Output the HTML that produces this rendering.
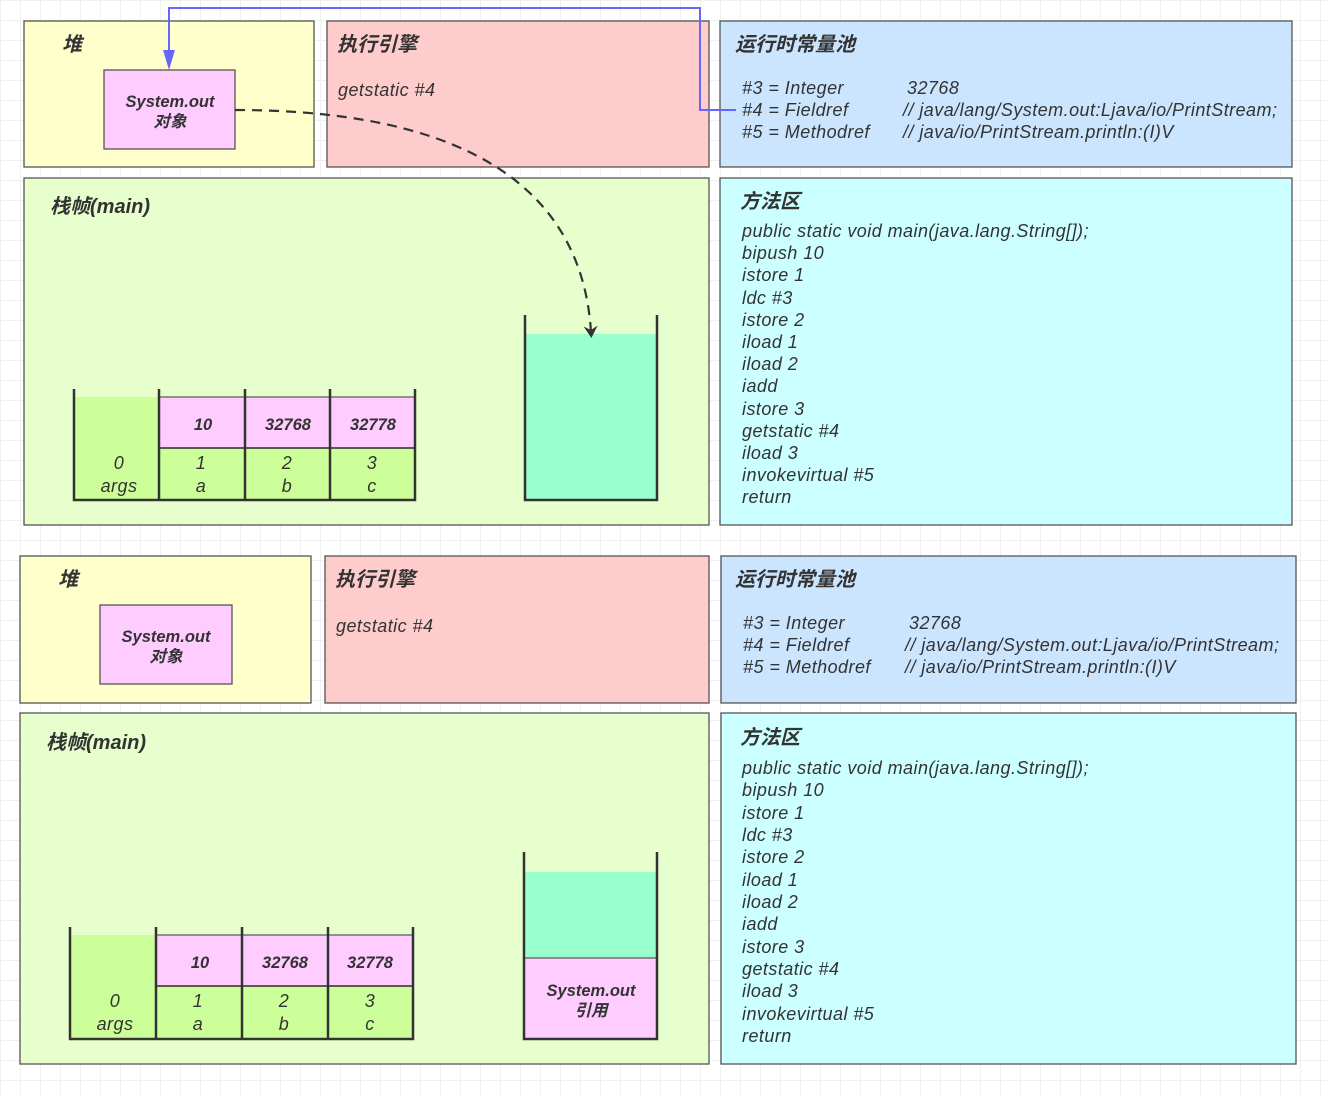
<!DOCTYPE html>
<html><head><meta charset="utf-8"><style>
html,body{margin:0;padding:0;background:#fff;}
body{width:1328px;height:1095px;overflow:hidden;
background-image:linear-gradient(#f0f0f0 1px,transparent 1px),linear-gradient(90deg,#f0f0f0 1px,transparent 1px);background-size:20px 20px;}
svg{position:absolute;left:0;top:0;}
text{font-family:"Liberation Sans","Noto Sans CJK SC",sans-serif;font-style:italic;fill:#333;}
.t{font-size:20px;font-weight:bold;}
.n{font-size:18px;letter-spacing:0.45px;}
.b{font-size:16.5px;font-weight:bold;}
</style></head><body>
<svg width="1328" height="1095" viewBox="0 0 1328 1095">
<defs>
<marker id="ak" markerWidth="12" markerHeight="14" refX="6" refY="7" orient="auto" markerUnits="userSpaceOnUse"><path d="M0,0 L12,7 L0,14 L4,7 z" fill="#333"/></marker></defs>
<g stroke="#555" stroke-width="1.3">
<rect x="24" y="21" width="290" height="146" fill="#ffffcc"/>
<rect x="327" y="21" width="382" height="146" fill="#ffcccc"/>
<rect x="720" y="21" width="572" height="146" fill="#cce5ff"/>
<rect x="24" y="178" width="685" height="347" fill="#e6ffcc"/>
<rect x="720" y="178" width="572" height="347" fill="#ccffff"/>
<rect x="104" y="70" width="131" height="79" fill="#ffccff"/>
<rect x="20" y="556" width="291" height="147" fill="#ffffcc"/>
<rect x="325" y="556" width="384" height="147" fill="#ffcccc"/>
<rect x="721" y="556" width="575" height="147" fill="#cce5ff"/>
<rect x="20" y="713" width="689" height="351" fill="#e6ffcc"/>
<rect x="721" y="713" width="575" height="351" fill="#ccffff"/>
<rect x="100" y="605" width="132" height="79" fill="#ffccff"/>
</g>
<rect x="74" y="397" width="85" height="103" fill="#ccff99"/>
<rect x="159" y="448" width="256" height="52" fill="#ccff99"/>
<rect x="159" y="397" width="256" height="51" fill="#ffccff" stroke="#555" stroke-width="1.2"/>
<g stroke="#333" stroke-width="2.5" fill="none">
<path d="M74,389 V500 H415 V389"/><path d="M159,389 V500 M245,389 V500 M330,389 V500"/>
</g>
<line x1="159" y1="448" x2="415" y2="448" stroke="#333" stroke-width="1.5"/>
<rect x="525" y="334" width="132" height="166" fill="#99ffcc"/>
<path d="M525,315 V500 H657 V315" stroke="#333" stroke-width="2.5" fill="none"/>
<rect x="70" y="935" width="86" height="104" fill="#ccff99"/>
<rect x="156" y="986" width="257" height="53" fill="#ccff99"/>
<rect x="156" y="935" width="257" height="51" fill="#ffccff" stroke="#555" stroke-width="1.2"/>
<g stroke="#333" stroke-width="2.5" fill="none">
<path d="M70,927 V1039 H413 V927"/><path d="M156,927 V1039 M242,927 V1039 M328,927 V1039"/>
</g>
<line x1="156" y1="986" x2="413" y2="986" stroke="#333" stroke-width="1.5"/>
<rect x="524" y="872" width="133" height="86" fill="#99ffcc"/>
<rect x="524" y="958" width="133" height="81" fill="#ffccff" stroke="#555" stroke-width="1.2"/>
<path d="M524,852 V1039 H657 V852" stroke="#333" stroke-width="2.5" fill="none"/>
<path d="M736,110 H700 V8 H169 V52" stroke="#6666ff" stroke-width="2" fill="none"/>
<polygon points="163,50 175,50 169,70" fill="#6666ff"/>
<path d="M235,110 C420,110 580,160 591,332" stroke="#333" stroke-width="2.2" fill="none" stroke-dasharray="10,7" marker-end="url(#ak)"/>

<text class="t" x="62" y="51">堆</text>
<text class="t" x="337" y="51">执行引擎</text>
<text class="t" x="735" y="51">运行时常量池</text>
<text class="t" x="50" y="213">栈帧(main)</text>
<text class="t" x="740" y="208">方法区</text>
<text class="n" x="338" y="96">getstatic #4</text>
<text class="b" x="170" y="107" text-anchor="middle">System.out</text>
<text class="b" x="170" y="127" text-anchor="middle">对象</text>
<text class="n" x="742" y="94">#3 = Integer</text><text class="n" x="907" y="94">32768</text>
<text class="n" x="742" y="116">#4 = Fieldref</text><text class="n" x="903" y="116">// java/lang/System.out:Ljava/io/PrintStream;</text>
<text class="n" x="742" y="138">#5 = Methodref</text><text class="n" x="903" y="138">// java/io/PrintStream.println:(I)V</text>
<text class="n" x="742" y="237">public static void main(java.lang.String[]);</text>
<text class="n" x="742" y="259">bipush 10</text>
<text class="n" x="742" y="281">istore 1</text>
<text class="n" x="742" y="304">ldc #3</text>
<text class="n" x="742" y="326">istore 2</text>
<text class="n" x="742" y="348">iload 1</text>
<text class="n" x="742" y="370">iload 2</text>
<text class="n" x="742" y="392">iadd</text>
<text class="n" x="742" y="415">istore 3</text>
<text class="n" x="742" y="437">getstatic #4</text>
<text class="n" x="742" y="459">iload 3</text>
<text class="n" x="742" y="481">invokevirtual #5</text>
<text class="n" x="742" y="503">return</text>
<text class="b" x="203" y="430" text-anchor="middle">10</text>
<text class="b" x="288" y="430" text-anchor="middle">32768</text>
<text class="b" x="373" y="430" text-anchor="middle">32778</text>
<text class="n" x="119" y="469" text-anchor="middle">0</text><text class="n" x="119" y="492" text-anchor="middle">args</text>
<text class="n" x="201" y="469" text-anchor="middle">1</text><text class="n" x="201" y="492" text-anchor="middle">a</text>
<text class="n" x="287" y="469" text-anchor="middle">2</text><text class="n" x="287" y="492" text-anchor="middle">b</text>
<text class="n" x="372" y="469" text-anchor="middle">3</text><text class="n" x="372" y="492" text-anchor="middle">c</text>

<text class="t" x="58" y="586">堆</text>
<text class="t" x="335" y="586">执行引擎</text>
<text class="t" x="735" y="586">运行时常量池</text>
<text class="t" x="46" y="749">栈帧(main)</text>
<text class="t" x="740" y="744">方法区</text>
<text class="n" x="336" y="632">getstatic #4</text>
<text class="b" x="166" y="642" text-anchor="middle">System.out</text>
<text class="b" x="166" y="662" text-anchor="middle">对象</text>
<text class="n" x="743" y="629">#3 = Integer</text><text class="n" x="909" y="629">32768</text>
<text class="n" x="743" y="651">#4 = Fieldref</text><text class="n" x="905" y="651">// java/lang/System.out:Ljava/io/PrintStream;</text>
<text class="n" x="743" y="673">#5 = Methodref</text><text class="n" x="905" y="673">// java/io/PrintStream.println:(I)V</text>
<text class="n" x="742" y="774">public static void main(java.lang.String[]);</text>
<text class="n" x="742" y="796">bipush 10</text>
<text class="n" x="742" y="819">istore 1</text>
<text class="n" x="742" y="841">ldc #3</text>
<text class="n" x="742" y="863">istore 2</text>
<text class="n" x="742" y="886">iload 1</text>
<text class="n" x="742" y="908">iload 2</text>
<text class="n" x="742" y="930">iadd</text>
<text class="n" x="742" y="953">istore 3</text>
<text class="n" x="742" y="975">getstatic #4</text>
<text class="n" x="742" y="997">iload 3</text>
<text class="n" x="742" y="1020">invokevirtual #5</text>
<text class="n" x="742" y="1042">return</text>
<text class="b" x="200" y="968" text-anchor="middle">10</text>
<text class="b" x="285" y="968" text-anchor="middle">32768</text>
<text class="b" x="370" y="968" text-anchor="middle">32778</text>
<text class="n" x="115" y="1007" text-anchor="middle">0</text><text class="n" x="115" y="1030" text-anchor="middle">args</text>
<text class="n" x="198" y="1007" text-anchor="middle">1</text><text class="n" x="198" y="1030" text-anchor="middle">a</text>
<text class="n" x="284" y="1007" text-anchor="middle">2</text><text class="n" x="284" y="1030" text-anchor="middle">b</text>
<text class="n" x="370" y="1007" text-anchor="middle">3</text><text class="n" x="370" y="1030" text-anchor="middle">c</text>
<text class="b" x="591" y="996" text-anchor="middle">System.out</text>
<text class="b" x="591" y="1016" text-anchor="middle">引用</text>
</svg>
</body></html>
